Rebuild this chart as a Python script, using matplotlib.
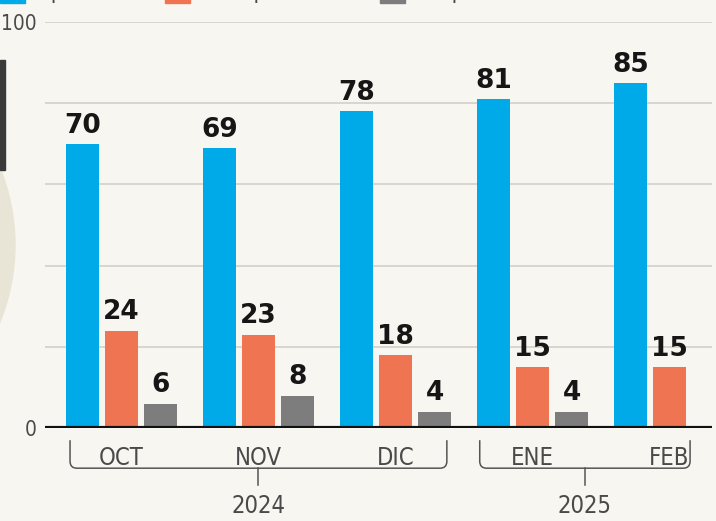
import matplotlib.pyplot as plt
import numpy as np
from matplotlib.path import Path
from matplotlib.patches import PathPatch, Ellipse, Rectangle

months = ['OCT', 'NOV', 'DIC', 'ENE', 'FEB']
years = ['2024', '2025']
aprueba = [70, 69, 78, 81, 85]
desaprueba = [24, 23, 18, 15, 15]
no_precisa = [6, 8, 4, 4, None]
series_names = ['Aprueba', 'Desaprueba', 'No precisa']

colors = ['#00a9e8', '#ef7452', '#7d7d7d']
bg = '#f8f6f1'
# bracket spans in x-axis units
brackets = [(-0.375, 2.375), (2.615, 4.15)]

fig = plt.figure(figsize=(7.16, 5.21), dpi=100, facecolor=bg)
ax = fig.add_axes([0.0628, 0.1785, 0.9316, 0.7793])
ax.set_facecolor('none')

# decorative photo edge on the left
fig.patches.append(Ellipse((-190 / 716, 276 / 521), 410 / 716, 410 / 521,
                           transform=fig.transFigure, color='#e9e5d6', zorder=0))
fig.patches.append(Rectangle((0, 351 / 521), 5 / 716, 110 / 521,
                             transform=fig.transFigure, color='#3a3a3a', zorder=0))

lab = dict(family='DejaVu Sans', fontstretch='condensed', color='#4a4a4a')

x = np.arange(len(months))
step = 0.285
width = 0.24
for i, (vals, c) in enumerate(zip([aprueba, desaprueba, no_precisa], colors)):
    for xi, v in zip(x, vals):
        if v is None:
            continue
        xb = xi + (i - 1) * step
        ax.bar(xb, v, width=width, color=c, zorder=3)
        ax.text(xb, v + 1.3, str(v), ha='center', va='bottom', fontsize=19,
                fontweight='bold', color='#161616', zorder=4)

ax.set_xlim(-0.558, 4.31)
ax.set_ylim(0, 100)
for y in [20, 40, 60, 80, 100]:
    ax.axhline(y, color='#d6d3cc', lw=1.3, zorder=1)
ax.axhline(0, color='#111111', lw=3, zorder=5)

for s in ax.spines.values():
    s.set_visible(False)
ax.set_xticks([])
ax.set_yticks([0, 100])
ax.set_yticklabels(['0', '100'], fontsize=15, **lab)
ax.tick_params(axis='y', length=0, pad=6)

# month labels
for xi, m in zip(x, months):
    ax.text(xi, -7.4, m, ha='center', va='center', fontsize=17,
            clip_on=False, **lab)

# year brackets
top, bot, tick_end = -3.0, -9.9, -14.0
rx, ry = 0.05, 1.7
for (x0, x1), yr in zip(brackets, years):
    verts = [(x0, top), (x0, bot + ry), (x0, bot), (x0 + rx, bot),
             (x1 - rx, bot), (x1, bot), (x1, bot + ry), (x1, top)]
    codes = [Path.MOVETO, Path.LINETO, Path.CURVE3, Path.CURVE3,
             Path.LINETO, Path.CURVE3, Path.CURVE3, Path.LINETO]
    ax.add_patch(PathPatch(Path(verts, codes), fill=False, ec='#555555',
                           lw=1.1, clip_on=False))
    xm = (x0 + x1) / 2
    ax.plot([xm, xm], [bot, tick_end], color='#555555', lw=1.1, clip_on=False)
    ax.text(xm, -19.3, yr, ha='center', va='center', fontsize=17,
            clip_on=False, **lab)

# legend, mostly cut off at the top edge
leg_x = [0, 165, 380]
for lx, name, c in zip(leg_x, series_names, colors):
    fig.patches.append(Rectangle((lx / 716, 518 / 521), 25 / 716, 10 / 521,
                                 transform=fig.transFigure, color=c))
    fig.text((lx + 38) / 716, 518 / 521, name, fontsize=16, va='bottom', **lab)

fig.savefig('out.png', dpi=100, facecolor=bg)
